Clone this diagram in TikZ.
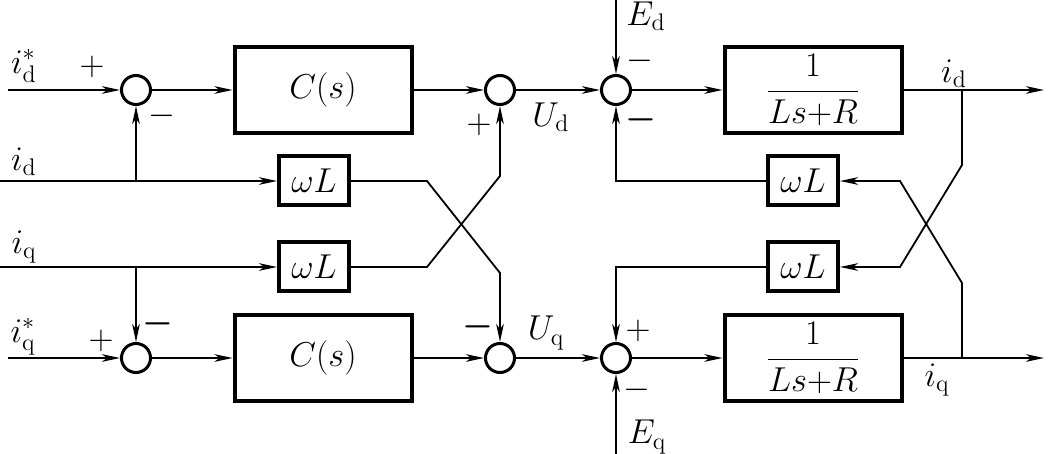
\documentclass[tikz,border=0pt]{standalone}
\usepackage{amsmath}
\usetikzlibrary{arrows.meta}
\begin{document}
\begin{tikzpicture}[x=0.5pt,y=-0.5pt,
  font=\fontsize{17}{20}\selectfont,
  sumnode/.style={circle,draw,line width=1.5pt,minimum size=14.5pt,inner sep=0pt},
  ctrlbox/.style={draw,line width=2pt,minimum width=88.5pt,minimum height=43pt,inner sep=0pt},
  wlbox/.style={draw,line width=2pt,minimum width=35pt,minimum height=24.5pt,inner sep=0pt},
  conn/.style={line width=0.9pt},
  arr/.style={conn,-{Stealth[length=9pt,width=3.8pt,inset=2.5pt]}},
  lbl/.style={inner sep=0pt},
  bminus/.style={inner sep=0pt,font=\fontsize{17}{20}\selectfont\boldmath}]
\useasboundingbox (0,0) rectangle (1050,454);
% nodes upper row
\node[sumnode] (s1) at (136,90) {};
\node[ctrlbox] (C1) at (323,90) {$C(s)$};
\node[sumnode] (s2) at (500,90) {};
\node[sumnode] (s3) at (616,90) {};
\node[ctrlbox] (G1) at (813,90) {$\dfrac{1}{Ls{+}R}$};
% lower row
\node[sumnode] (s4) at (136,358) {};
\node[ctrlbox] (C2) at (323,358) {$C(s)$};
\node[sumnode] (s5) at (500,358) {};
\node[sumnode] (s6) at (616,358) {};
\node[ctrlbox] (G2) at (813,358) {$\dfrac{1}{Ls{+}R}$};
% omega L boxes
\node[wlbox] (W1) at (314,181) {$\omega L$};
\node[wlbox] (W2) at (314,267) {$\omega L$};
\node[wlbox] (W3) at (803,181) {$\omega L$};
\node[wlbox] (W4) at (803,267) {$\omega L$};
% free ends
\coordinate (idsin) at (8,90);
\coordinate (idin) at (0,181);
\coordinate (iqin) at (0,267);
\coordinate (iqsin) at (8,358);
\coordinate (idout) at (1044,90);
\coordinate (iqout) at (1044,358);
\coordinate (Edin) at (616,0);
\coordinate (Eqin) at (616,454);
\coordinate (bd) at (136,181);
\coordinate (bq) at (136,267);
\coordinate (rd) at (962,90);
\coordinate (rq) at (962,358);
% upper path
\draw[arr] (idsin) -- (s1);
\draw[arr] (s1) -- (C1);
\draw[arr] (C1) -- (s2);
\draw[arr] (s2) -- (s3);
\draw[arr] (s3) -- (G1);
\draw[arr] (G1) -- (idout);
\draw[arr] (Edin) -- (s3);
% lower path
\draw[arr] (iqsin) -- (s4);
\draw[arr] (s4) -- (C2);
\draw[arr] (C2) -- (s5);
\draw[arr] (s5) -- (s6);
\draw[arr] (s6) -- (G2);
\draw[arr] (G2) -- (iqout);
\draw[arr] (Eqin) -- (s6);
% left feedback
\draw[arr] (idin) -- (W1);
\draw[arr] (bd) -- (s1);
\draw[arr] (iqin) -- (W2);
\draw[arr] (bq) -- (s4);
\draw[arr] (W1.east) -- (427,181) -- (500,273) -- (s5);
\draw[arr] (W2.east) -- (427,267) -- (500,176) -- (s2);
% right feedback
\draw[arr] (W3.west) -| (s3);
\draw[arr] (W4.west) -| (s6);
\draw[arr] (rd) -- (962,165) -- (900,267) -- (W4.east);
\draw[arr] (rq) -- (962,283) -- (900,181) -- (W3.east);
% labels
\node[lbl] (Lids) at (24,66) {$i_{\mathrm{d}}^{*}$};
\node[lbl] (Lid) at (24,162) {$i_{\mathrm{d}}$};
\node[lbl] (Liq) at (24,247) {$i_{\mathrm{q}}$};
\node[lbl] (Liqs) at (23,337) {$i_{\mathrm{q}}^{*}$};
\node[lbl] (p1) at (92,67) {$+$};
\node[lbl] (m1) at (162,116) {$-$};
\node[lbl] (p2) at (479,125) {$+$};
\node[lbl] (Ud) at (551,117) {$U_{\mathrm{d}}$};
\node[lbl] (Ed) at (646,16) {$E_{\mathrm{d}}$};
\node[lbl] (m3a) at (640,61) {$-$};
\node[bminus] (m3b) at (641,120) {$-$};
\node[lbl] (idr) at (954,74) {$i_{\mathrm{d}}$};
\node[bminus] (m4) at (158,324) {$-$};
\node[lbl] (p4) at (101,341) {$+$};
\node[bminus] (m5) at (478,327) {$-$};
\node[lbl] (Uq) at (546,333) {$U_{\mathrm{q}}$};
\node[lbl] (p6) at (638,331) {$+$};
\node[lbl] (m6) at (637,390) {$-$};
\node[lbl] (Eq) at (647,437) {$E_{\mathrm{q}}$};
\node[lbl] (iqr) at (937,380) {$i_{\mathrm{q}}$};
\end{tikzpicture}
\end{document}
